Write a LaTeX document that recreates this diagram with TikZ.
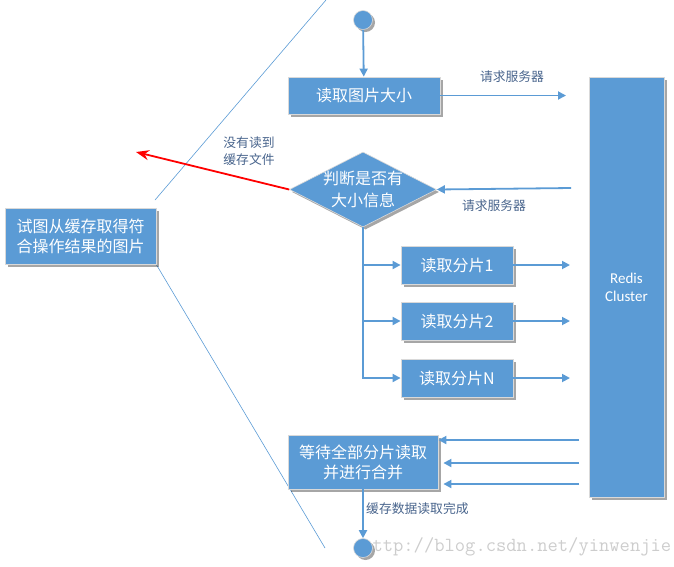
\documentclass[tikz,border=0pt]{standalone}
\usepackage{fontspec}
\setmainfont{Noto Sans CJK SC}
\newfontfamily\calib{Carlito}
\usetikzlibrary{arrows.meta,shapes.geometric,shadows}
\definecolor{boxblue}{RGB}{91,155,213}
\definecolor{lblue}{RGB}{72,100,140}
\definecolor{wm}{RGB}{205,205,205}
\tikzset{
  shad/.style={drop shadow={shadow xshift=2.5pt,shadow yshift=-2.5pt,opacity=0.35,fill=black}},
  bx/.style={rectangle,fill=boxblue,draw=white!70!gray,line width=0.8pt,text=white,
    font=\fontsize{16}{20}\selectfont,align=center,inner sep=0pt,shad},
  ln/.style={draw=boxblue,line width=1.8pt},
  arr/.style={ln,-{Triangle[length=8pt,width=8pt]}},
  lbl/.style={text=lblue,font=\fontsize{12.8}{16}\selectfont,inner sep=0pt},
  thin/.style={draw=boxblue,line width=0.6pt},
  dot/.style={circle,fill=boxblue,draw=white!70!gray,line width=0.6pt,minimum size=19pt,inner sep=0pt,shad}
}
\begin{document}
\begin{tikzpicture}[x=1pt,y=-1pt]
\useasboundingbox (0,0) rectangle (674,566);
% thin guide lines
\coordinate (t1) at (155,200);
\coordinate (t2) at (326,0);
\coordinate (u1) at (156,264);
\coordinate (u2) at (325,548);
\draw[thin] (t1) -- (t2);
\draw[thin] (u1) -- (u2);
% watermark
\node[text=wm,font=\ttfamily\fontsize{20}{21}\selectfont,anchor=west,inner sep=0pt] (wmk) at (362,547) {http://blog.csdn.net/yinwenjie};
% nodes
\node[dot] (start) at (363,20) {};
\node[bx,minimum width=152pt,minimum height=37pt] (b1) at (364,95.5) {读取图片大小};
\node[bx,font=\calib\fontsize{15}{18}\selectfont,minimum width=75pt,minimum height=420pt] (redis) at (626.5,287) {Redis\\Cluster};
\node[diamond,fill=boxblue,draw=white!70!gray,line width=0.6pt,minimum width=147pt,minimum height=75pt,inner sep=0pt,shad] (dia) at (363,189.5) {};
\node[text=white,font=\fontsize{16}{22}\selectfont,align=center,inner sep=0pt] (diat) at (dia) {判断是否有\\大小信息};
\node[bx,minimum width=151pt,minimum height=56pt] (left) at (80.5,236) {试图从缓存取得符\\合操作结果的图片};
\node[bx,minimum width=112pt,minimum height=38pt] (s1) at (457,265) {读取分片1};
\node[bx,minimum width=112pt,minimum height=38pt] (s2) at (457,321) {读取分片2};
\node[bx,minimum width=112pt,minimum height=38pt] (s3) at (457,378) {读取分片N};
\node[bx,minimum width=150pt,minimum height=54pt] (wait) at (363,462) {等待全部分片读取\\并进行合并};
\node[dot] (end) at (363,548) {};
% labels
\node[lbl] (l1) at (512,77) {请求服务器};
\node[lbl] (l2) at (494,206) {请求服务器};
\node[lbl,align=center,font=\fontsize{12.8}{17}\selectfont] (l3) at (249,151) {没有读到\\缓存文件};
\node[lbl,anchor=west] (l4) at (366,509) {缓存数据读取完成};
% free-end coordinates
\coordinate (r1) at (566,95.5);
\coordinate (r2) at (571,188);
\coordinate (red) at (136,152);
\coordinate (q1) at (570,265);
\coordinate (q2) at (570,321);
\coordinate (q3) at (570,378);
\coordinate (w1) at (579,440);
\coordinate (w2) at (579,463);
\coordinate (w3) at (579,484);
% connectors
\draw[arr] (start) -- (b1);
\draw[arr] (b1.east) -- (r1);
\draw[arr] (r2) -- (dia.east);
\draw[red,line width=1.8pt,-{Stealth[length=13pt,width=10pt]}] (dia.west) -- (red);
\draw[arr] (dia.south) |- (s3.west);
\draw[arr] (dia.south |- s1.west) -- (s1.west);
\draw[arr] (dia.south |- s2.west) -- (s2.west);
\draw[arr] (s1.east) -- (q1);
\draw[arr] (s2.east) -- (q2);
\draw[arr] (s3.east) -- (q3);
\draw[arr] (w1) -- (wait.east |- w1);
\draw[arr] (w2) -- ([xshift=5pt]wait.east |- w2);
\draw[arr] (w3) -- ([xshift=5pt]wait.east |- w3);
\draw[arr] (wait) -- (end);
\end{tikzpicture}
\end{document}
